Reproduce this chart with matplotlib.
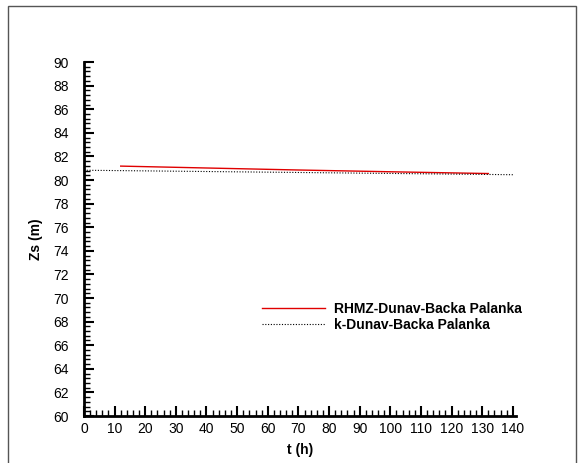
import matplotlib
matplotlib.use('Agg')
import matplotlib.pyplot as plt
from matplotlib.patches import Rectangle
from matplotlib.ticker import MultipleLocator

plt.rcParams['font.family'] = ['Liberation Sans', 'DejaVu Sans']

# measured series
t_rhmz = [12, 40, 70, 100, 132]
zs_rhmz = [81.18, 81.02, 80.85, 80.70, 80.55]
t_k = [0, 140]
zs_k = [80.83, 80.45]

fig = plt.figure(figsize=(5.79, 4.63), dpi=100)
ax = fig.add_axes([0.145, 0.1015, 0.746, 0.7645])

ax.plot(t_rhmz, zs_rhmz, color='#e00000', lw=1.0, label='RHMZ-Dunav-Backa Palanka')
ax.plot(t_k, zs_k, color='black', lw=0.8, linestyle=(0, (1, 1.5)), label='k-Dunav-Backa Palanka')

ax.set_xlim(0, 141)
ax.set_ylim(60, 90)
ax.xaxis.set_major_locator(MultipleLocator(10))
ax.xaxis.set_minor_locator(MultipleLocator(2))
ax.yaxis.set_major_locator(MultipleLocator(2))
ax.yaxis.set_minor_locator(MultipleLocator(0.4))
ax.tick_params(which='major', direction='in', length=7, width=1.5, labelsize=10)
ax.tick_params(which='minor', direction='in', length=4, width=1)
ax.tick_params(axis='y', which='major', pad=11)
ax.tick_params(axis='x', which='major', pad=4)
ax.spines['top'].set_visible(False)
ax.spines['right'].set_visible(False)
ax.spines['left'].set_linewidth(2)
ax.spines['bottom'].set_linewidth(2)

ax.set_xlabel('t (h)', fontsize=10, fontweight='bold', labelpad=5)
ax.set_ylabel('Zs (m)', fontsize=10, fontweight='bold', labelpad=7)

leg = ax.legend(loc='upper left', bbox_to_anchor=(262 / 579, 1 - 302 / 463),
                bbox_transform=fig.transFigure, frameon=False,
                prop={'size': 10, 'weight': 'bold'}, handlelength=4.5,
                handletextpad=0.7, labelspacing=0.15, borderpad=0, borderaxespad=0)

fig.patches.append(Rectangle((8 / 579, -0.01), 568 / 579, 1 - 6 / 463 + 0.01,
                             transform=fig.transFigure, fill=False,
                             edgecolor='#555555', lw=1))

plt.savefig('out.png')
